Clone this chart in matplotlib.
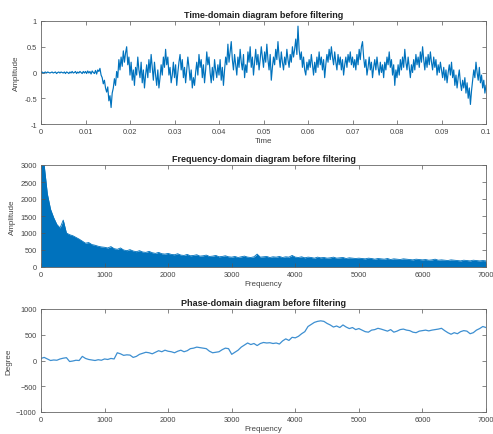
import numpy as np
import matplotlib
matplotlib.use("Agg")
import matplotlib.pyplot as plt

# ---------------- data ----------------
# time-domain signal, sampled every 0.00025 s from 0 to 0.1
time_start, time_step = 0.0, 0.00025
time_amp = [
    0.00, 0.01, -0.01, 0.00, 0.01, -0.01, 0.01, 0.00, -0.01, 0.00, 0.01, -0.01, 0.00, 0.01, -0.02, 0.00, 0.01, -0.01, 0.01, 0.00,
    -0.01, 0.01, -0.02, 0.01, 0.00, -0.02, 0.01, -0.01, 0.02, -0.01, 0.00, 0.02, -0.02, 0.01, -0.01, 0.02, 0.00, -0.02, 0.02, -0.01,
    0.02, -0.02, 0.03, -0.01, 0.02, -0.03, 0.03, 0.00, -0.02, 0.04, -0.03, 0.05, 0.02, 0.08, -0.05, -0.10, -0.22, -0.15, -0.30, -0.38,
    -0.28, -0.55, -0.45, -0.68, -0.40, -0.30, -0.12, -0.25, 0.02, -0.10, 0.25, 0.05, 0.30, 0.12, 0.42, 0.20, 0.38, 0.50, 0.15, 0.30,
    -0.05, 0.20, -0.15, 0.05, -0.25, 0.10, -0.05, 0.30, 0.05, -0.10, 0.20, -0.20, 0.05, -0.30, -0.05, 0.15, -0.10, 0.25, 0.00, 0.35,
    0.10, -0.15, 0.20, -0.05, -0.25, 0.05, -0.30, -0.10, 0.15, -0.05, 0.30, 0.10, 0.45, 0.15, 0.30, -0.05, 0.10, -0.20, -0.05, 0.20,
    -0.10, 0.15, -0.25, 0.00, 0.20, 0.35, 0.05, 0.25, -0.10, 0.10, -0.20, 0.05, 0.30, 0.10, -0.15, 0.05, -0.30, -0.10, -0.25, 0.00,
    0.20, -0.05, 0.35, 0.10, 0.25, -0.10, 0.15, -0.20, 0.05, 0.40, 0.15, 0.30, 0.00, -0.20, 0.10, -0.15, 0.25, 0.05, -0.10, 0.15,
    -0.05, 0.25, -0.15, 0.10, -0.25, 0.05, 0.30, 0.15, 0.55, 0.20, 0.40, 0.60, 0.25, 0.05, 0.35, 0.15, -0.05, 0.30, 0.10, 0.45,
    0.20, 0.05, 0.35, -0.10, 0.15, 0.00, 0.40, 0.20, 0.50, 0.10, 0.30, -0.05, 0.20, 0.45, 0.15, 0.35, 0.05, 0.25, 0.50, 0.30,
    0.10, 0.40, 0.20, 0.55, 0.25, 0.05, 0.35, -0.15, 0.10, 0.30, 0.15, 0.45, 0.25, 0.60, 0.30, 0.10, 0.40, 0.20, 0.05, 0.30,
    0.15, 0.45, 0.25, 0.10, 0.35, 0.20, 0.50, 0.30, 0.45, 0.65, 0.35, 0.90, 0.45, 0.25, 0.40, 0.10, 0.30, 0.05, -0.05, 0.20,
    0.05, 0.25, 0.10, 0.35, 0.15, -0.05, 0.20, 0.00, 0.30, 0.10, 0.40, 0.15, 0.30, 0.05, 0.25, -0.10, 0.15, 0.35, 0.20, 0.45,
    0.25, 0.50, 0.30, 0.15, 0.40, 0.20, 0.05, 0.35, 0.15, 0.30, 0.05, 0.25, -0.05, 0.15, 0.30, 0.10, 0.35, 0.20, 0.40, 0.15,
    0.30, 0.10, 0.25, 0.05, 0.35, 0.15, 0.45, 0.25, 0.50, 0.60, 0.30, 0.10, 0.25, -0.05, 0.10, 0.30, 0.05, 0.20, -0.10, 0.10,
    0.25, 0.05, 0.30, 0.10, -0.05, 0.20, 0.00, 0.15, -0.10, 0.20, 0.05, 0.30, 0.15, 0.40, 0.10, 0.25, -0.05, 0.15, -0.25, 0.05,
    -0.10, 0.15, -0.05, 0.25, 0.05, 0.30, 0.10, 0.45, 0.20, 0.05, 0.30, 0.10, -0.10, 0.15, 0.00, 0.25, 0.05, 0.35, 0.15, 0.30,
    0.10, 0.40, 0.20, 0.50, 0.25, 0.05, 0.30, 0.10, 0.35, 0.15, 0.40, 0.20, 0.05, 0.30, 0.10, 0.25, -0.05, 0.15, 0.00, 0.20,
    0.05, -0.10, 0.10, -0.15, 0.05, -0.20, 0.00, 0.15, -0.05, 0.20, -0.10, 0.05, -0.25, -0.05, -0.30, -0.10, 0.05, -0.20, -0.35, -0.15,
    -0.30, -0.10, -0.40, -0.20, -0.50, -0.30, -0.62, -0.35, -0.15, 0.05, -0.10, 0.20, 0.00, -0.15, 0.10, -0.20, -0.05, -0.30, -0.15, -0.40,
    -0.25,
]

# spectrum envelope, every 50 Hz from 0 to 7000
freq_step = 50
spec_amp = [
    3000, 3000, 2150, 1700, 1450, 1250, 1150, 1380, 1000, 950, 920, 870, 820, 760, 700, 720, 660, 640, 610, 590, 580,
    560, 600, 540, 520, 560, 500, 480, 510, 470, 450, 480, 440, 430, 460, 420, 400, 430, 390, 380, 400,
    370, 360, 390, 350, 340, 370, 330, 340, 360, 320, 330, 350, 310, 320, 340, 300, 310, 330, 300, 290,
    310, 280, 300, 320, 290, 280, 300, 380, 290, 300, 310, 280, 300, 290, 310, 280, 300, 290, 340, 290,
    280, 300, 270, 290, 280, 260, 290, 270, 280, 260, 270, 290, 260, 270, 280, 250, 270, 260, 250, 260,
    250, 240, 260, 250, 230, 250, 240, 230, 250, 220, 240, 230, 220, 240, 230, 220, 210, 230, 220, 210,
    220, 200, 210, 230, 200, 210, 200, 190, 210, 200, 190, 180, 200, 190, 180, 200, 190, 180, 190, 180,
]

# phase, every 50 Hz from 0 to 7000
phase_deg = [
    40, 60, 30, 0, 10, 5, 30, 45, 55, -20, -10, 5, 0, 80, 40, 20, 10, 0, 15, 5, 30,
    20, 40, 30, 150, 130, 100, 110, 105, 60, 80, 120, 140, 160, 150, 130, 160, 190, 170, 200, 180,
    170, 150, 180, 200, 170, 190, 230, 240, 260, 250, 240, 230, 180, 150, 160, 170, 210, 240, 230, 120,
    160, 200, 260, 300, 340, 310, 330, 290, 330, 350, 340, 345, 330, 340, 320, 380, 420, 390, 450, 440,
    470, 520, 560, 660, 700, 740, 760, 770, 760, 720, 690, 650, 670, 640, 690, 650, 620, 640, 600, 620,
    590, 560, 550, 590, 600, 625, 610, 590, 570, 600, 550, 570, 600, 610, 590, 580, 550, 540, 570, 580,
    590, 575, 590, 600, 610, 625, 580, 540, 510, 540, 520, 560, 580, 570, 520, 540, 590, 620, 660, 640,
]

titles = ["Time-domain diagram before filtering",
          "Frequency-domain diagram before filtering",
          "Phase-domain diagram before filtering"]
xlabels = ["Time", "Frequency", "Frequency"]
ylabels = ["Amplitude", "Amplitude", "Degree"]
time_ticks = [0, 0.01, 0.02, 0.03, 0.04, 0.05, 0.06, 0.07, 0.08, 0.09, 0.1]
time_ticklabels = ["0", "0.01", "0.02", "0.03", "0.04", "0.05", "0.06", "0.07", "0.08", "0.09", "0.1"]
amp_ticks = [-1, -0.5, 0, 0.5, 1]
freq_ticks = [0, 1000, 2000, 3000, 4000, 5000, 6000, 7000]
spec_ticks = [0, 500, 1000, 1500, 2000, 2500, 3000]
phase_ticks = [-1000, -500, 0, 500, 1000]

# ---------------- plot ----------------
plt.rcParams['font.family'] = ['Liberation Sans', 'DejaVu Sans']
BLUE = "#0072BD"
fig = plt.figure(figsize=(4.93, 4.35), dpi=100)

W, H = 493.0, 435.0
def box(l, t, r, b):
    return [l / W, 1 - b / H, (r - l) / W, (b - t) / H]

ax1 = fig.add_axes(box(41, 22, 486, 125))
ax2 = fig.add_axes(box(41, 166, 486, 268))
ax3 = fig.add_axes(box(41, 310, 486, 413))

t = time_start + time_step * np.arange(len(time_amp))
f = freq_step * np.arange(len(spec_amp))
fp = freq_step * np.arange(len(phase_deg))

ax1.plot(t, time_amp, color=BLUE, lw=0.85)
ax1.set_xlim(0, 0.1)
ax1.set_ylim(-1, 1)
ax1.set_xticks(time_ticks)
ax1.set_xticklabels(time_ticklabels)
ax1.set_yticks(amp_ticks)
ax1.set_yticklabels(["-1", "-0.5", "0", "0.5", "1"])

ax2.fill_between(f, 0, spec_amp, color=BLUE, lw=0)
ax2.plot(f, spec_amp, color=BLUE, lw=0.6)
ax2.set_xlim(0, 7000)
ax2.set_ylim(0, 3000)
ax2.set_xticks(freq_ticks)
ax2.set_yticks(spec_ticks)

ax3.plot(fp, phase_deg, color="#3d8fd1", lw=0.9)
ax3.set_xlim(0, 7000)
ax3.set_ylim(-1000, 1000)
ax3.set_xticks(freq_ticks)
ax3.set_yticks(phase_ticks)

for ax, ti, xl, yl in zip([ax1, ax2, ax3], titles, xlabels, ylabels):
    ax.set_title(ti, fontsize=6.5, fontweight='bold', pad=3, color='#222222')
    ax.set_xlabel(xl, fontsize=5.8, labelpad=1, color='#444444')
    ax.set_ylabel(yl, fontsize=5.8, labelpad=3, color='#444444')
    ax.tick_params(direction='in', length=3, width=0.5, labelsize=5.3,
                   top=True, right=True, colors='#555555', labelcolor='#444444', pad=3)
    for s in ax.spines.values():
        s.set_linewidth(0.6)
        s.set_color('#666666')

fig.savefig("out.png", dpi=100)
